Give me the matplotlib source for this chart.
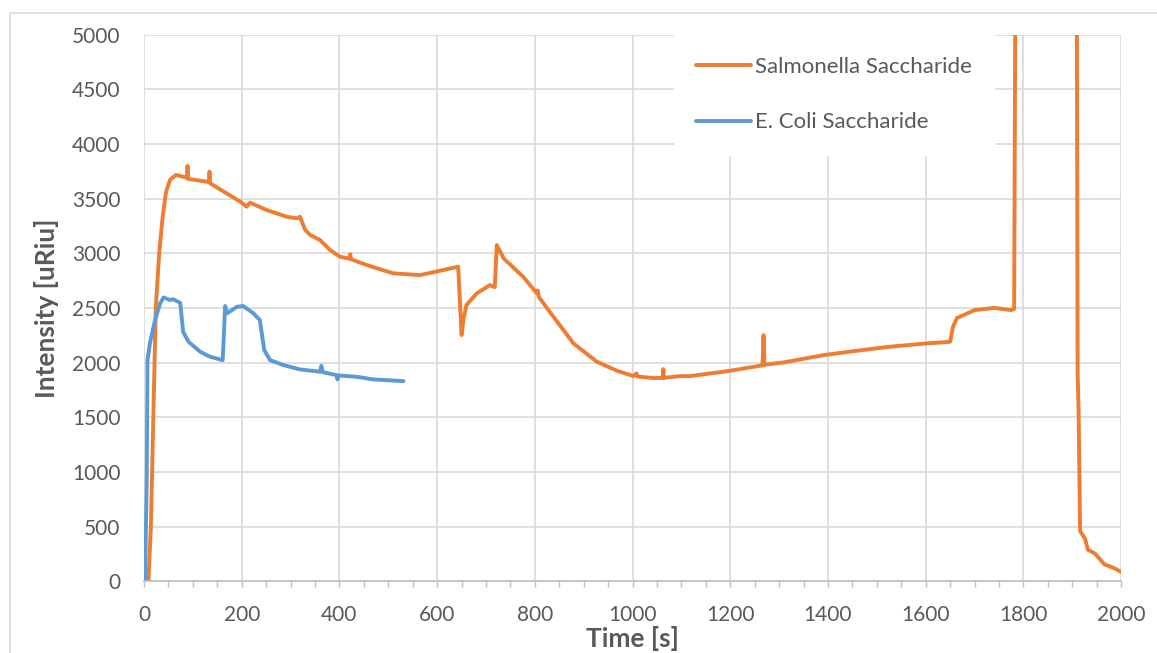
import matplotlib
matplotlib.use("Agg")
import matplotlib.pyplot as plt
from matplotlib.patches import Rectangle
from matplotlib.ticker import MultipleLocator

plt.rcParams['font.family'] = ['Lato', 'DejaVu Sans']

# Salmonella Saccharide (orange)
salm_t = [9, 14, 19, 24, 31, 38, 45, 53, 65, 80, 88, 89, 90, 128, 133, 134, 135,
          141, 169, 197, 210, 217, 251, 292, 313, 319, 330, 340, 360, 381, 401,
          420, 422, 424, 456, 510, 565, 606, 643, 650, 654, 660, 681, 708, 715,
          718, 722, 736, 776, 804, 806, 808, 838, 879, 927, 968, 1002, 1008, 1010,
          1043, 1062, 1063, 1064, 1097, 1118, 1200, 1266, 1268, 1270, 1309, 1391,
          1459, 1527, 1602, 1650, 1656, 1664, 1700, 1740, 1775, 1781, 1784, 1909,
          1911, 1913, 1916, 1926, 1932, 1946, 1966, 1983, 2000]
salm_i = [0, 500, 1500, 2500, 3000, 3330, 3560, 3670, 3716, 3700, 3690, 3798, 3680,
          3655, 3650, 3746, 3640, 3624, 3548, 3472, 3426, 3463, 3395, 3334, 3319,
          3334, 3212, 3167, 3121, 3029, 2968, 2950, 2990, 2945, 2892, 2816, 2800,
          2840, 2877, 2251, 2400, 2526, 2633, 2709, 2694, 2690, 3075, 2953, 2785,
          2633, 2660, 2600, 2419, 2175, 2007, 1925, 1876, 1900, 1872, 1858, 1860,
          1940, 1860, 1876, 1876, 1925, 1975, 2251, 1980, 2001, 2068, 2108, 2145,
          2175, 2190, 2330, 2407, 2480, 2500, 2480, 2490, 6000, 6000, 1900, 1540,
          458, 390, 288, 254, 153, 125, 85]

# E. Coli Saccharide (blue)
ecoli_t = [2, 5.5, 7, 12, 22.5, 33, 40, 53, 59, 74, 80, 91, 115, 135, 161, 166,
           170, 190, 203, 224, 237, 246, 258, 285, 319, 360, 363, 366, 394, 396,
           398, 435, 469, 531]
ecoli_i = [0, 925, 2022, 2175, 2389, 2541, 2596, 2572, 2580, 2547, 2282, 2190,
           2098, 2053, 2022, 2517, 2450, 2510, 2517, 2450, 2389, 2114, 2022, 1977,
           1937, 1916, 1970, 1912, 1885, 1845, 1882, 1870, 1846, 1830]

grey_txt = '#595959'
fig = plt.figure(figsize=(11.57, 6.53), dpi=100)
ax = fig.add_axes([0.1245, 0.110, 0.8445, 0.837])

# outer chart border (cropped on right / bottom)
fig.add_artist(Rectangle((10 / 1157, -0.1), 1.2, 1 - 13 / 653 + 0.1,
                         transform=fig.transFigure, fill=False,
                         edgecolor='#d9d9d9', linewidth=1.2))

ax.plot(salm_t, salm_i, color='#ED7D31', lw=2.8, label='Salmonella Saccharide',
        solid_joinstyle='round', solid_capstyle='round')
ax.plot(ecoli_t, ecoli_i, color='#5B9BD5', lw=2.8, label='E. Coli Saccharide',
        solid_joinstyle='round', solid_capstyle='round')

ax.set_xlim(0, 2000)
ax.set_ylim(0, 5000)
ax.xaxis.set_major_locator(MultipleLocator(200))
ax.xaxis.set_minor_locator(MultipleLocator(50))
ax.yaxis.set_major_locator(MultipleLocator(500))
ax.grid(True, which='major', color='#d9d9d9', lw=1.2)
ax.set_axisbelow(True)

for s in ['top', 'right', 'left']:
    ax.spines[s].set_visible(False)
ax.spines['bottom'].set_color('#bfbfbf')
ax.spines['bottom'].set_linewidth(1.2)

ax.tick_params(axis='x', which='both', direction='out', length=4, color='#bfbfbf',
               width=1, labelsize=15, labelcolor=grey_txt, pad=13)
ax.tick_params(axis='y', length=0, labelsize=15, labelcolor=grey_txt, pad=17)

ax.set_xlabel('Time [s]', fontsize=19, fontweight='bold', color=grey_txt, labelpad=1)
ax.set_ylabel('Intensity [uRiu]', fontsize=19, fontweight='bold', color=grey_txt, labelpad=9)

leg = ax.legend(loc='upper left', bbox_to_anchor=(0.5425, 1.0), fontsize=16,
                frameon=True, fancybox=False, framealpha=1, edgecolor='white',
                handlelength=2.45, handletextpad=0.2, labelspacing=1.6,
                borderpad=1.0, borderaxespad=0)
for t in leg.get_texts():
    t.set_color(grey_txt)

fig.savefig('out.png', dpi=100)
